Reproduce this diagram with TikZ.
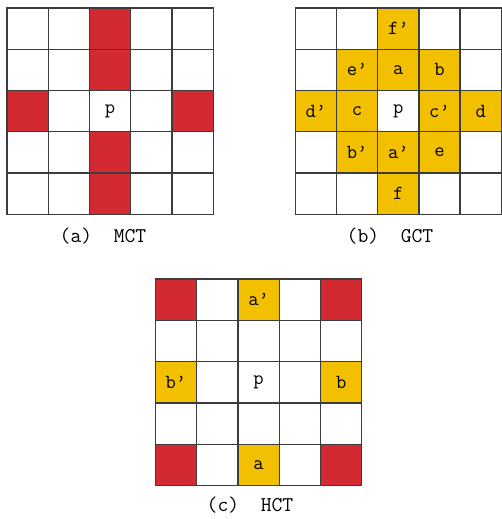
\documentclass[tikz,border=0pt]{standalone}
\usepackage{fontspec}
\definecolor{redc}{RGB}{210,42,48}
\definecolor{yelc}{RGB}{243,192,0}
\definecolor{gridc}{RGB}{60,60,60}
\begin{document}
\begin{tikzpicture}[x=1pt,y=1pt,
  gridline/.style={draw=gridc, line width=1.3pt, line cap=rect},
  lab/.style={inner sep=0pt, font=\ttfamily\fontsize{20}{20}\selectfont},
  captext/.style={inner sep=0pt, font=\ttfamily\fontsize{21}{21}\selectfont}]
\useasboundingbox (0,0) rectangle (501,519);
% (a) MCT
\begin{scope}[shift={(7,304.75)}, x=41.25pt, y=41.25pt]
  \foreach \c/\r in {2/0,2/1,0/2,4/2,2/3,2/4}
    \fill[redc] (\c,\r) rectangle ++(1,1);
  \foreach \i in {0,...,5}{
    \draw[gridline] (\i,0) -- (\i,5);
    \draw[gridline] (0,\i) -- (5,\i);}
  \node[lab] (a-p) at (2.5,2.5) {p};
\end{scope}
\node[captext] (capa) at (103,283) {(a)\ \ MCT};
% (b) GCT
\begin{scope}[shift={(295.3,304.75)}, x=41.2pt, y=41.25pt]
  \foreach \c/\r in {2/4,1/3,2/3,3/3,0/2,1/2,3/2,4/2,1/1,2/1,3/1,2/0}
    \fill[yelc] (\c,\r) rectangle ++(1,1);
  \foreach \i in {0,...,5}{
    \draw[gridline] (\i,0) -- (\i,5);
    \draw[gridline] (0,\i) -- (5,\i);}
  \foreach \c/\r/\t/\n in {2/4/f’/fp,1/3/e’/ep,2/3/a/a,3/3/b/b,0/2/d’/dp,1/2/c/c,3/2/c’/cp,4/2/d/d,1/1/b’/bp,2/1/a’/ap,3/1/e/e,2/0/f/f,2/2/p/p}
    \node[lab] (b-\n) at (\c+0.5,\r+0.5) {\t};
\end{scope}
\node[captext] (capb) at (390,283) {(b)\ \ GCT};
% (c) HCT
\begin{scope}[shift={(155.3,33.5)}, x=41.3pt, y=41.3pt]
  \foreach \c/\r in {0/0,4/0,0/4,4/4}
    \fill[redc] (\c,\r) rectangle ++(1,1);
  \foreach \c/\r in {2/4,0/2,4/2,2/0}
    \fill[yelc] (\c,\r) rectangle ++(1,1);
  \foreach \i in {0,...,5}{
    \draw[gridline] (\i,0) -- (\i,5);
    \draw[gridline] (0,\i) -- (5,\i);}
  \foreach \c/\r/\t/\n in {2/4/a’/ap,0/2/b’/bp,4/2/b/b,2/0/a/a,2/2/p/p}
    \node[lab] (c-\n) at (\c+0.5,\r+0.5) {\t};
\end{scope}
\node[captext] (capc) at (250,14) {(c)\ \ HCT};
\end{tikzpicture}
\end{document}
